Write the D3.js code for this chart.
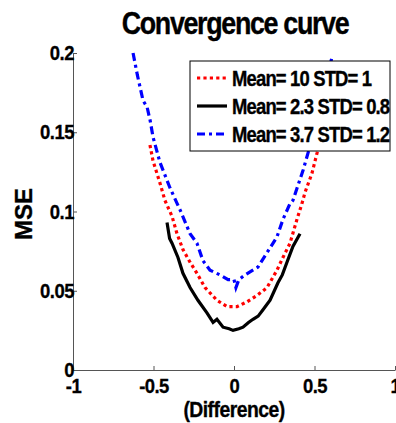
<!DOCTYPE html>
<html>
<head>
<meta charset="utf-8">
<script src="https://cdn.jsdelivr.net/npm/d3@7/dist/d3.min.js"></script>
<style>
  body { margin: 0; background: #fff; }
  svg { display: block; font-family: "Liberation Sans", Arial, sans-serif; font-weight: bold; }
  .axis path, .axis line { stroke: #555; stroke-width: 1; }
  .axis text { font-size: 21px; letter-spacing: -0.6px; fill: #000; stroke: #000; stroke-width: 0.3px; font-family: "Liberation Sans", Arial, sans-serif; font-weight: bold; }
  .lbl { fill: #000; stroke: #000; stroke-width: 0.35px; }
</style>
</head>
<body>
<div id="chart"></div>
<script>
var xTicks = [-1, -0.5, 0, 0.5, 1];
var yTicks = [0, 0.05, 0.1, 0.15, 0.2];

var redX = [-0.522, -0.503, -0.460, -0.429, -0.385, -0.354, -0.317, -0.273, -0.230, -0.180, -0.106, -0.043, 0.019, 0.081, 0.143, 0.205, 0.267, 0.304, 0.348, 0.391, 0.422, 0.441, 0.484, 0.516, 0.528];
var redY = [0.142, 0.132, 0.118, 0.107, 0.097, 0.086, 0.076, 0.068, 0.061, 0.052, 0.044, 0.040, 0.040, 0.043, 0.047, 0.052, 0.063, 0.071, 0.080, 0.095, 0.105, 0.112, 0.124, 0.137, 0.143];

var blackX = [-0.416, -0.400, -0.385, -0.348, -0.317, -0.273, -0.224, -0.168, -0.130, -0.106, -0.068, -0.030, -0.006, 0.030, 0.056, 0.090, 0.118, 0.150, 0.180, 0.224, 0.273, 0.300, 0.329, 0.366, 0.410];
var blackY = [0.093, 0.083, 0.080, 0.071, 0.061, 0.052, 0.044, 0.036, 0.030, 0.032, 0.027, 0.026, 0.025, 0.026, 0.027, 0.030, 0.032, 0.034, 0.038, 0.044, 0.055, 0.060, 0.068, 0.078, 0.086];

var blueX = [-0.627, -0.600, -0.565, -0.540, -0.520, -0.503, -0.460, -0.398, -0.335, -0.273, -0.230, -0.193, -0.149, -0.087, -0.037, 0.000, 0.012, 0.030, 0.068, 0.149, 0.205, 0.267, 0.304, 0.348, 0.366, 0.429, 0.460, 0.490, 0.520, 0.550, 0.580, 0.610];
var blueY = [0.200, 0.186, 0.170, 0.166, 0.157, 0.147, 0.131, 0.115, 0.101, 0.086, 0.080, 0.069, 0.063, 0.060, 0.057, 0.057, 0.052, 0.057, 0.060, 0.065, 0.074, 0.084, 0.095, 0.105, 0.107, 0.126, 0.137, 0.147, 0.160, 0.172, 0.185, 0.198];

var seriesNames = ['Mean= 10 STD= 1', 'Mean= 2.3 STD= 0.8', 'Mean= 3.7 STD= 1.2'];

var width = 396, height = 423;
var plotLeft = 73, plotRight = 395, plotTop = 53, plotBottom = 370;
var squeeze = 0.84; // картинка сжата по горизонтали

var svg = d3.select('#chart').append('svg')
  .attr('width', width)
  .attr('height', height);

svg.append('rect').attr('width', width).attr('height', height).attr('fill', '#fff');

var x = d3.scaleLinear().domain([-1, 1]).range([plotLeft, plotRight]);
var y = d3.scaleLinear().domain([0, 0.2]).range([plotBottom, plotTop]);

var xAxis = d3.axisBottom(x).tickValues(xTicks).tickSizeInner(-4).tickSizeOuter(0).tickPadding(8)
  .tickFormat(function(d) { return d === 0 ? '0' : String(d); });
var yAxis = d3.axisLeft(y).tickValues(yTicks).tickSizeInner(-4).tickSizeOuter(0).tickPadding(-1)
  .tickFormat(function(d) { return d === 0 ? '0' : String(d); });

svg.append('g').attr('class', 'axis')
  .attr('transform', 'translate(0,' + plotBottom + ')')
  .call(xAxis)
  .selectAll('text').attr('transform', 'scale(0.88,1)');
svg.append('g').attr('class', 'axis')
  .attr('transform', 'translate(' + plotLeft + ',0)')
  .call(yAxis)
  .selectAll('text').attr('transform', 'scale(0.88,1)');

var line = d3.line()
  .x(function(d) { return x(d[0]); })
  .y(function(d) { return y(d[1]); });

function pts(xs, ys) { return xs.map(function(v, i) { return [v, ys[i]]; }); }

var styles = [
  { color: '#ff0000', dash: '3.2,3.2' },
  { color: '#000000', dash: null },
  { color: '#0000ff', dash: '8,4,3,4' }
];
var series = [pts(redX, redY), pts(blackX, blackY), pts(blueX, blueY)];

series.forEach(function(s, i) {
  svg.append('path')
    .attr('d', line(s))
    .attr('fill', 'none')
    .attr('stroke', styles[i].color)
    .attr('stroke-width', 3.2)
    .attr('stroke-dasharray', styles[i].dash);
});

// легенда
var lg = svg.append('g').attr('transform', 'translate(190,61)');
lg.append('rect')
  .attr('width', 200).attr('height', 90)
  .attr('fill', '#fff').attr('stroke', '#000').attr('stroke-width', 1);

seriesNames.forEach(function(name, i) {
  var cy = 17 + i * 28;
  lg.append('line')
    .attr('x1', 7).attr('x2', 37).attr('y1', cy).attr('y2', cy)
    .attr('stroke', styles[i].color).attr('stroke-width', 3.2)
    .attr('stroke-dasharray', styles[i].dash);
  lg.append('text')
    .attr('class', 'lbl')
    .attr('transform', 'translate(42,' + (cy + 8) + ') scale(' + squeeze + ',1)')
    .attr('font-size', 22).attr('letter-spacing', '-1px')
    .text(name);
});

// подписи
svg.append('text')
  .attr('class', 'lbl')
  .attr('transform', 'translate(' + ((plotLeft + plotRight) / 2 + 1) + ',34) scale(' + squeeze + ',1)')
  .attr('text-anchor', 'middle')
  .attr('font-size', 32).attr('letter-spacing', '-1.6px')
  .text('Convergence curve');

svg.append('text')
  .attr('class', 'lbl')
  .attr('transform', 'translate(' + (plotLeft + plotRight) / 2 + ',417) scale(0.88,1)')
  .attr('text-anchor', 'middle')
  .attr('font-size', 22).attr('letter-spacing', '-0.6px')
  .text('(Difference)');

svg.append('text')
  .attr('class', 'lbl')
  .attr('transform', 'translate(32,214) rotate(-90)')
  .attr('text-anchor', 'middle')
  .attr('font-size', 24)
  .text('MSE');
</script>
</body>
</html>
